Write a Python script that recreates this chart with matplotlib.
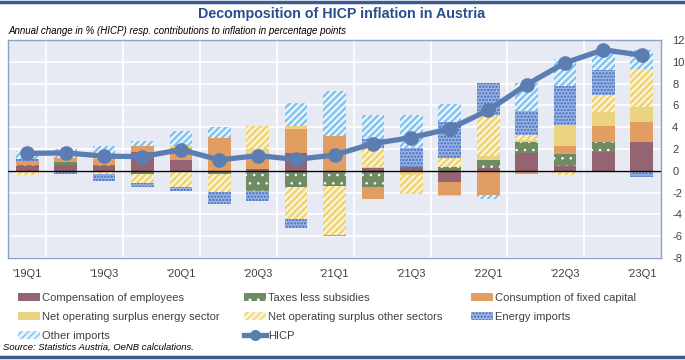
import matplotlib
matplotlib.use("Agg")
import matplotlib.pyplot as plt
from matplotlib.patches import Patch
from matplotlib.lines import Line2D
import numpy as np

quarters = ["'19Q1", "'19Q2", "'19Q3", "'19Q4", "'20Q1", "'20Q2", "'20Q3", "'20Q4",
            "'21Q1", "'21Q2", "'21Q3", "'21Q4", "'22Q1", "'22Q2", "'22Q3", "'22Q4", "'23Q1"]

comp = [0.40, 0.52, 0.40, 1.70, 0.98, 0.00, 0.20, 1.66, 0.00, 0.30, 0.37, -1.00, 0.25, 1.66, 0.46, 1.69, 2.62]
taxes = [0.15, 0.28, 0.12, -0.25, 0.00, -0.30, -1.85, -1.48, -1.38, -1.48, 0.00, 0.37, 0.74, 1.00, 1.08, 1.00, 0.00]
capital = [0.34, 0.37, 0.58, 0.60, 1.10, 3.02, 1.32, 2.18, 3.23, -1.08, -0.15, -1.17, -2.20, -0.30, 0.77, 1.38, 1.85]
nos_energy = [0.00, 0.00, 0.10, 0.00, 0.20, 0.00, 0.46, 0.25, 0.00, 0.05, -0.25, -0.15, 0.40, 0.18, 1.90, 1.30, 1.38]
nos_other = [-0.34, -0.10, -0.30, -0.83, -1.48, -1.65, 2.10, -2.92, -4.46, 1.78, -1.70, 0.80, 3.70, 0.43, -0.40, 1.54, 3.45]
energy_imp = [0.20, -0.20, -0.65, -0.40, -0.37, -1.10, -0.90, -0.83, -0.10, 0.80, 1.72, 3.35, 2.92, 2.25, 3.54, 2.30, -0.60]
other_imp = [0.77, 0.80, 1.05, 0.46, 1.38, 1.02, 0.00, 2.15, 4.10, 2.18, 3.05, 1.63, -0.34, 2.52, 2.46, 1.60, 1.78]
hicp = [1.6, 1.65, 1.35, 1.3, 1.95, 1.0, 1.4, 1.05, 1.45, 2.5, 3.05, 3.85, 5.55, 7.9, 9.9, 11.1, 10.6]

labels = ["Compensation of employees", "Taxes less subsidies", "Consumption of fixed capital",
          "Net operating surplus energy sector", "Net operating surplus other sectors",
          "Energy imports", "Other imports"]

# (facecolor, hatch, hatchcolor, hatch linewidth)
styles = [
    ("#956472", None, None, 1.0),
    ("#6F8B61", "..", "#FFFFFF", 0.6),
    ("#E29D62", None, None, 1.0),
    ("#EAD47F", None, None, 1.0),
    ("#FBF3D6", "/////", "#EDD16C", 1.6),
    ("#9FB6E3", ".....", "#3F6CC0", 1.2),
    ("#EAF4FC", "/////", "#7CC0EE", 1.6),
]

plt.rcParams['axes.unicode_minus'] = False
fam = ['Liberation Sans', 'DejaVu Sans']

fig = plt.figure(figsize=(6.85, 3.6), dpi=100)
ax = fig.add_axes([0.0117, 0.283, 0.9533, 0.606])
ax.set_facecolor("#E7EAF2")

x = np.arange(len(quarters))
series = [comp, taxes, capital, nos_energy, nos_other, energy_imp, other_imp]
pos_base = np.zeros(len(x))
neg_base = np.zeros(len(x))
handles = []
for vals, lab, (fc, hatch, hc, hlw) in zip(series, labels, styles):
    v = np.array(vals)
    p = np.where(v > 0, v, 0)
    n = np.where(v < 0, v, 0)
    kw = dict(width=0.59, color=fc, zorder=3, linewidth=0)
    if hatch:
        kw.update(hatch=hatch, edgecolor=hc)
    with plt.rc_context({'hatch.linewidth': hlw}):
        ax.bar(x, p, bottom=pos_base, **kw)
        ax.bar(x, n, bottom=neg_base, **kw)
        if hatch:
            handles.append(Patch(facecolor=fc, hatch=hatch, edgecolor=hc, linewidth=0, label=lab))
        else:
            handles.append(Patch(facecolor=fc, linewidth=0, label=lab))
    pos_base += p
    neg_base += n

ax.axhline(0, color="black", linewidth=1.0, zorder=4)
ax.plot(x, hicp, color="#5B7DB1", linewidth=3.8, marker="o", markersize=9.5, zorder=5)
handles.append(Line2D([], [], color="#5B7DB1", linewidth=3.8, marker="o", markersize=7, label="HICP"))

ax.set_xlim(-0.5, len(x) - 0.5)
ax.set_ylim(-8, 12)
ax.set_yticks(np.arange(-8, 13, 2))
ax.yaxis.tick_right()
ax.set_xticks(x[::2])
ax.set_xticklabels(quarters[::2])
ax.set_xticks(np.arange(0.5, len(x) - 1, 2), minor=True)
ax.tick_params(which="both", length=0)
ax.tick_params(axis="y", pad=8, labelsize=8, labelcolor="#404040")
ax.tick_params(axis="x", pad=8, labelsize=8, labelcolor="#404040")
for t in ax.get_xticklabels() + ax.get_yticklabels():
    t.set_family(fam)
ax.grid(axis="y", color="white", linewidth=1.2, zorder=0)
ax.grid(axis="x", which="minor", color="white", linewidth=1.2, zorder=0)
ax.set_axisbelow(True)
for s in ax.spines.values():
    s.set_color("#8DA2C8")
    s.set_linewidth(1.0)

# legend: three columns placed like the original
cols = [[0, 3, 6], [1, 4, 7], [2, 5]]
col_x = [18, 244, 471]
for idx, cx in zip(cols, col_x):
    leg = fig.legend([handles[i] for i in idx], [handles[i].get_label() for i in idx],
                     loc="upper left", bbox_to_anchor=(cx / 685, 0.186), frameon=False,
                     prop={'family': fam, 'size': 8}, handlelength=2.0, handleheight=0.65,
                     handletextpad=0.15, labelspacing=0.8, borderpad=0, borderaxespad=0)
    for t in leg.get_texts():
        t.set_color("#404040")

fig.text(0.498, 0.962, "Decomposition of HICP inflation in Austria", ha="center", va="center",
         fontsize=10.3, fontweight="bold", color="#2A4D8F", family=fam)
fig.text(0.012, 0.915, "Annual change in % (HICP) resp. contributions to inflation in percentage points",
         ha="left", va="center", fontsize=7, style="italic", family=fam)
fig.text(0.004, 0.036, "Source: Statistics Austria, OeNB calculations.", ha="left", va="center",
         fontsize=6.8, style="italic", family=fam)

fig.add_artist(Line2D([0, 1], [0.995, 0.995], color="#3A5A94", linewidth=2.5))
fig.add_artist(Line2D([0, 1], [0.008, 0.008], color="#3A5A94", linewidth=2.5))

fig.savefig("out.png", dpi=100)
